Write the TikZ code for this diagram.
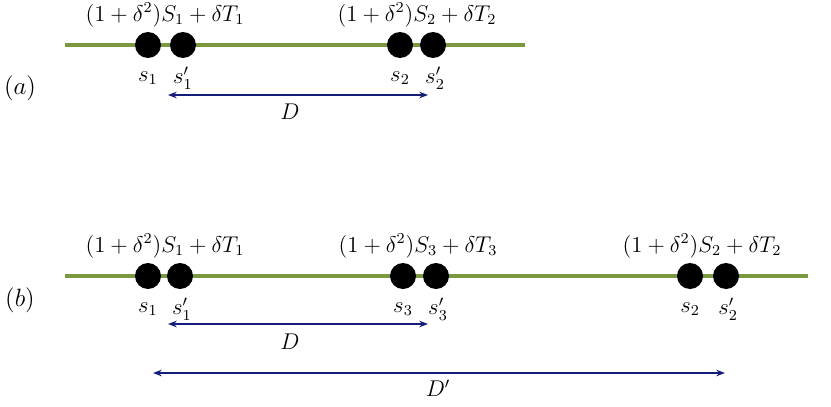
\documentclass[tikz,border=0pt]{standalone}
\usepackage{amsmath,amssymb}
\usetikzlibrary{arrows.meta}
\definecolor{linegreen}{RGB}{122,152,62}
\definecolor{arrowblue}{RGB}{20,30,120}
\begin{document}
\begin{tikzpicture}[x=0.02cm,y=-0.02cm,
    dot/.style={circle,fill=black,inner sep=0pt,minimum size=0.52cm},
    lbl/.style={font=\large,scale=1.08},
    base/.style={linegreen,line width=1.8pt},
    dist/.style={arrowblue,thick,{Stealth[length=5pt]}-{Stealth[length=5pt]}}]
\useasboundingbox (0,0) rectangle (831,406);

% (a)
\node[lbl,scale=1.1] (la) at (20,88) {$(a)$};
\coordinate (a0) at (65,45);
\coordinate (a9) at (525,45);
\draw[base] (a0) -- (a9);
\node[dot] (as1) at (148,45) {};
\node[dot] (as1p) at (183,45) {};
\node[dot] (as2) at (400,45) {};
\node[dot] (as2p) at (433,45) {};
\node[lbl] at (165,15) {$(1+\delta^2)S_1+\delta T_1$};
\node[lbl] at (417,15) {$(1+\delta^2)S_2+\delta T_2$};
\node[lbl] at (148,78) {$s_1$};
\node[lbl] at (183,78) {$s_1'$};
\node[lbl] at (400,78) {$s_2$};
\node[lbl] at (435,78) {$s_2'$};
\coordinate (ad0) at (168,95);
\coordinate (ad1) at (428,95);
\draw[dist] (ad0) -- (ad1);
\node[lbl] at (290,112) {$D$};

% (b)
\node[lbl,scale=1.1] (lb) at (20,300) {$(b)$};
\coordinate (b0) at (65,276);
\coordinate (b9) at (808,276);
\draw[base] (b0) -- (b9);
\node[dot] (bs1) at (148,276) {};
\node[dot] (bs1p) at (180,276) {};
\node[dot] (bs3) at (403,276) {};
\node[dot] (bs3p) at (436,276) {};
\node[dot] (bs2) at (690,276) {};
\node[dot] (bs2p) at (726,276) {};
\node[lbl] at (165,246) {$(1+\delta^2)S_1+\delta T_1$};
\node[lbl] at (418,246) {$(1+\delta^2)S_3+\delta T_3$};
\node[lbl] at (702,246) {$(1+\delta^2)S_2+\delta T_2$};
\node[lbl] at (148,309) {$s_1$};
\node[lbl] at (182,309) {$s_1'$};
\node[lbl] at (403,309) {$s_3$};
\node[lbl] at (438,309) {$s_3'$};
\node[lbl] at (690,309) {$s_2$};
\node[lbl] at (728,309) {$s_2'$};
\coordinate (bd0) at (168,324);
\coordinate (bd1) at (428,324);
\draw[dist] (bd0) -- (bd1);
\node[lbl] at (290,342) {$D$};
\coordinate (be0) at (153,373);
\coordinate (be1) at (725,373);
\draw[dist] (be0) -- (be1);
\node[lbl] at (438,388) {$D'$};
\end{tikzpicture}
\end{document}
